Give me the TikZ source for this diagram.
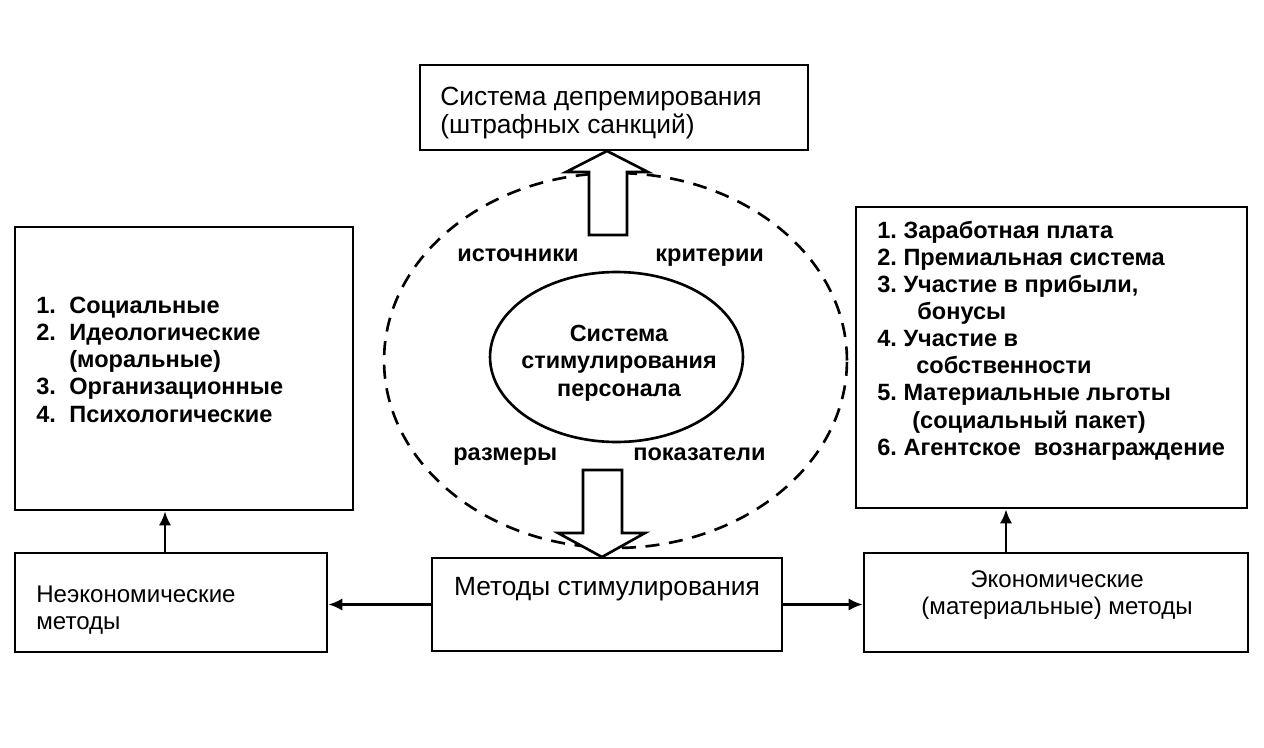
\documentclass[tikz,border=0pt]{standalone}
\usepackage{fontspec}
\setmainfont{Liberation Sans}
\usetikzlibrary{shapes.geometric,arrows.meta}

\tikzset{
  box/.style={draw, line width=1.5pt, inner sep=0pt},
  plain/.style={font=\fontsize{13.7}{15.4}\selectfont, inner sep=0pt},
  bold/.style={font=\fontsize{13.4}{15.4}\selectfont\bfseries, inner sep=0pt},
  conn/.style={line width=1.5pt, -{Latex[length=8pt,width=7pt]}},
  fat/.style={draw, line width=1.5pt, fill=white}
}

\begin{document}
\frenchspacing
\begin{tikzpicture}[x=0.02cm, y=-0.02cm]
\useasboundingbox (0,0) rectangle (1264,747);

% Ellipses
\node[ellipse, draw, line width=1.5pt, dash pattern=on 8pt off 5.5pt,
      minimum width=9.26cm, minimum height=7.5cm] (outer) at (615.5,360.5) {};
\node[ellipse, draw, line width=1.5pt, inner sep=0pt,
      minimum width=5.06cm, minimum height=3.4cm] (core) at (616.5,357) {};
\node[bold, align=center, font=\fontsize{13.3}{15.6}\selectfont\bfseries] (coretxt)
      at (619,363) {Система\\стимулирования\\персонала};

% Labels round the core
\node[bold, anchor=base west] (src) at (457,261) {источники};
\node[bold, anchor=base west] (crit) at (655,261) {критерии};
\node[bold, anchor=base west] (size) at (453,460) {размеры};
\node[bold, anchor=base west] (ind) at (633,460) {показатели};

% Top box
\node[box, minimum width=7.76cm, minimum height=1.7cm] (depr) at (614,107.5) {};
\node[plain, anchor=west, align=left, font=\fontsize{15}{15.5}\selectfont] (deprtxt)
      at (440,113) {Система депремирования\\(штрафных санкций)};

% Bottom boxes
\node[box, plain, minimum width=7cm, text height=0.74cm, text depth=1.12cm,
      font=\fontsize{15}{18}\selectfont] (meth) at (607,604.5) {Методы стимулирования};
\node[box, minimum width=6.24cm, minimum height=1.98cm] (nonec) at (171,602.5) {};
\node[plain, anchor=west, align=left] (nonectxt) at (36,610) {Неэкономические\\методы};
\node[box, minimum width=7.68cm, minimum height=1.98cm] (econ) at (1056,602.5) {};
\node[plain, align=center] (econtxt) at (1057,595) {Экономические\\(материальные) методы};

% List boxes
\node[box, minimum width=6.76cm, minimum height=5.66cm] (nonlist) at (184,368.5) {};
\node[box, minimum width=7.82cm, minimum height=6.02cm] (eclist) at (1051.5,357.5) {};

\node[bold, anchor=north west, align=left] (nontext) at (36,297)
  {\makebox[0.66cm][l]{1.}Социальные\\
   \makebox[0.66cm][l]{2.}Идеологические\\
   \makebox[0.66cm][l]{}(моральные)\\
   \makebox[0.66cm][l]{3.}Организационные\\
   \makebox[0.66cm][l]{4.}Психологические};
\node[bold, anchor=north west, align=left] (ectext) at (877,221)
  {1. Заработная плата\\
   2. Премиальная система\\
   3. Участие в прибыли,\\
   \hspace*{0.8cm}бонусы\\
   4. Участие в\\
   \hspace*{0.78cm}собственности\\
   5. Материальные льготы\\
   \hspace*{0.7cm}(социальный пакет)\\
   6. Агентское\ \ вознаграждение};

% Hollow arrows
\draw[fat] (589,235) -- (627,235) -- (627,172) -- (648,172) -- (607,151)
  -- (566,172) -- (589,172) -- cycle;
\draw[fat] (583,470) -- (622,470) -- (622,533) -- (645,533) -- (602,557)
  -- (558,533) -- (583,533) -- cycle;

% Connectors
\draw[conn] (meth.west) -- (meth.west -| nonec.east);
\draw[conn] (meth.east) -- (meth.east -| econ.west);
\draw[conn] ([xshift=-0.12cm]nonec.north) -- ([xshift=-0.12cm]nonec.north |- nonlist.south);
\draw[conn] ([xshift=-1cm]econ.north) -- ([xshift=-1cm]econ.north |- eclist.south);

\end{tikzpicture}
\end{document}
